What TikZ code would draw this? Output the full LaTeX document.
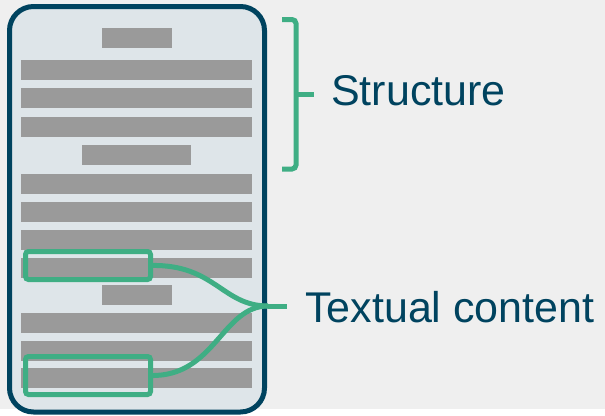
\documentclass[tikz,border=0pt]{standalone}
\usepackage{fontspec}
\setmainfont{Liberation Sans}
\usetikzlibrary{positioning, calc}
\definecolor{navy}{HTML}{00435F}
\definecolor{mint}{HTML}{3FAE84}
\definecolor{panel}{HTML}{DEE5E9}
\definecolor{bargray}{HTML}{9A9A9A}
\definecolor{bg}{HTML}{EFEFEF}

\begin{document}
\begin{tikzpicture}[x=1pt, y=-1pt,
	textbar/.style={fill=bargray, inner sep=0, outer sep=0, minimum height=20pt, anchor=north west},
	fullbar/.style={textbar, minimum width=231pt},
	pick/.style={draw=mint, line width=5pt, rounded corners=3pt, inner sep=0, outer sep=0, minimum width=125pt, anchor=north west},
	link/.style={draw=mint, line width=5pt},
	caption/.style={text=navy, font=\fontsize{43}{51}\selectfont, inner sep=0, anchor=base west}]
	\useasboundingbox (0,0) rectangle (605,415);
	\fill[bg] (0,0) rectangle (605,409);
	\node[draw=navy, fill=panel, line width=5pt, rounded corners=24pt, inner sep=0, outer sep=0,
		minimum width=255pt, minimum height=405.5pt, anchor=north west] (phone) at (9.5,6.5) {};
	\node[textbar, minimum width=70pt] (title1) at (102,28) {};
	\node[textbar, minimum width=109pt] (title2) at (82,145) {};
	\node[textbar, minimum width=70pt] (title3) at (102,285) {};
	\foreach \y in {60,88,117,174,202,230,258,313,341,368}
		\node[fullbar] (row\y) at (21,\y) {};
	\node[pick, minimum height=28pt] (tc1) at (25.5,251.5) {};
	\node[pick, minimum height=38pt] (tc2) at (25.5,356.5) {};
	\coordinate (join) at (268,306);
	\coordinate (tip) at (287,306);
	\draw[link] (tc1.east) .. controls (215,264) and (222,306) .. (join);
	\draw[link] (tc2.east) .. controls (215,377) and (222,306) .. (join);
	\draw[link] (join) -- (tip);
	\node[caption] (textual) at (305,322) {Textual content};
	\coordinate (btop) at (282,19.5);
	\coordinate (bbot) at (282,169);
	\coordinate (bmid) at (296,94);
	\draw[link, rounded corners=4pt] (btop) -- (296,19.5) -- (296,169) -- (bbot);
	\draw[link] (bmid) -- (314,94);
	\node[caption] (structure) at (331,105) {Structure};
\end{tikzpicture}
\end{document}
